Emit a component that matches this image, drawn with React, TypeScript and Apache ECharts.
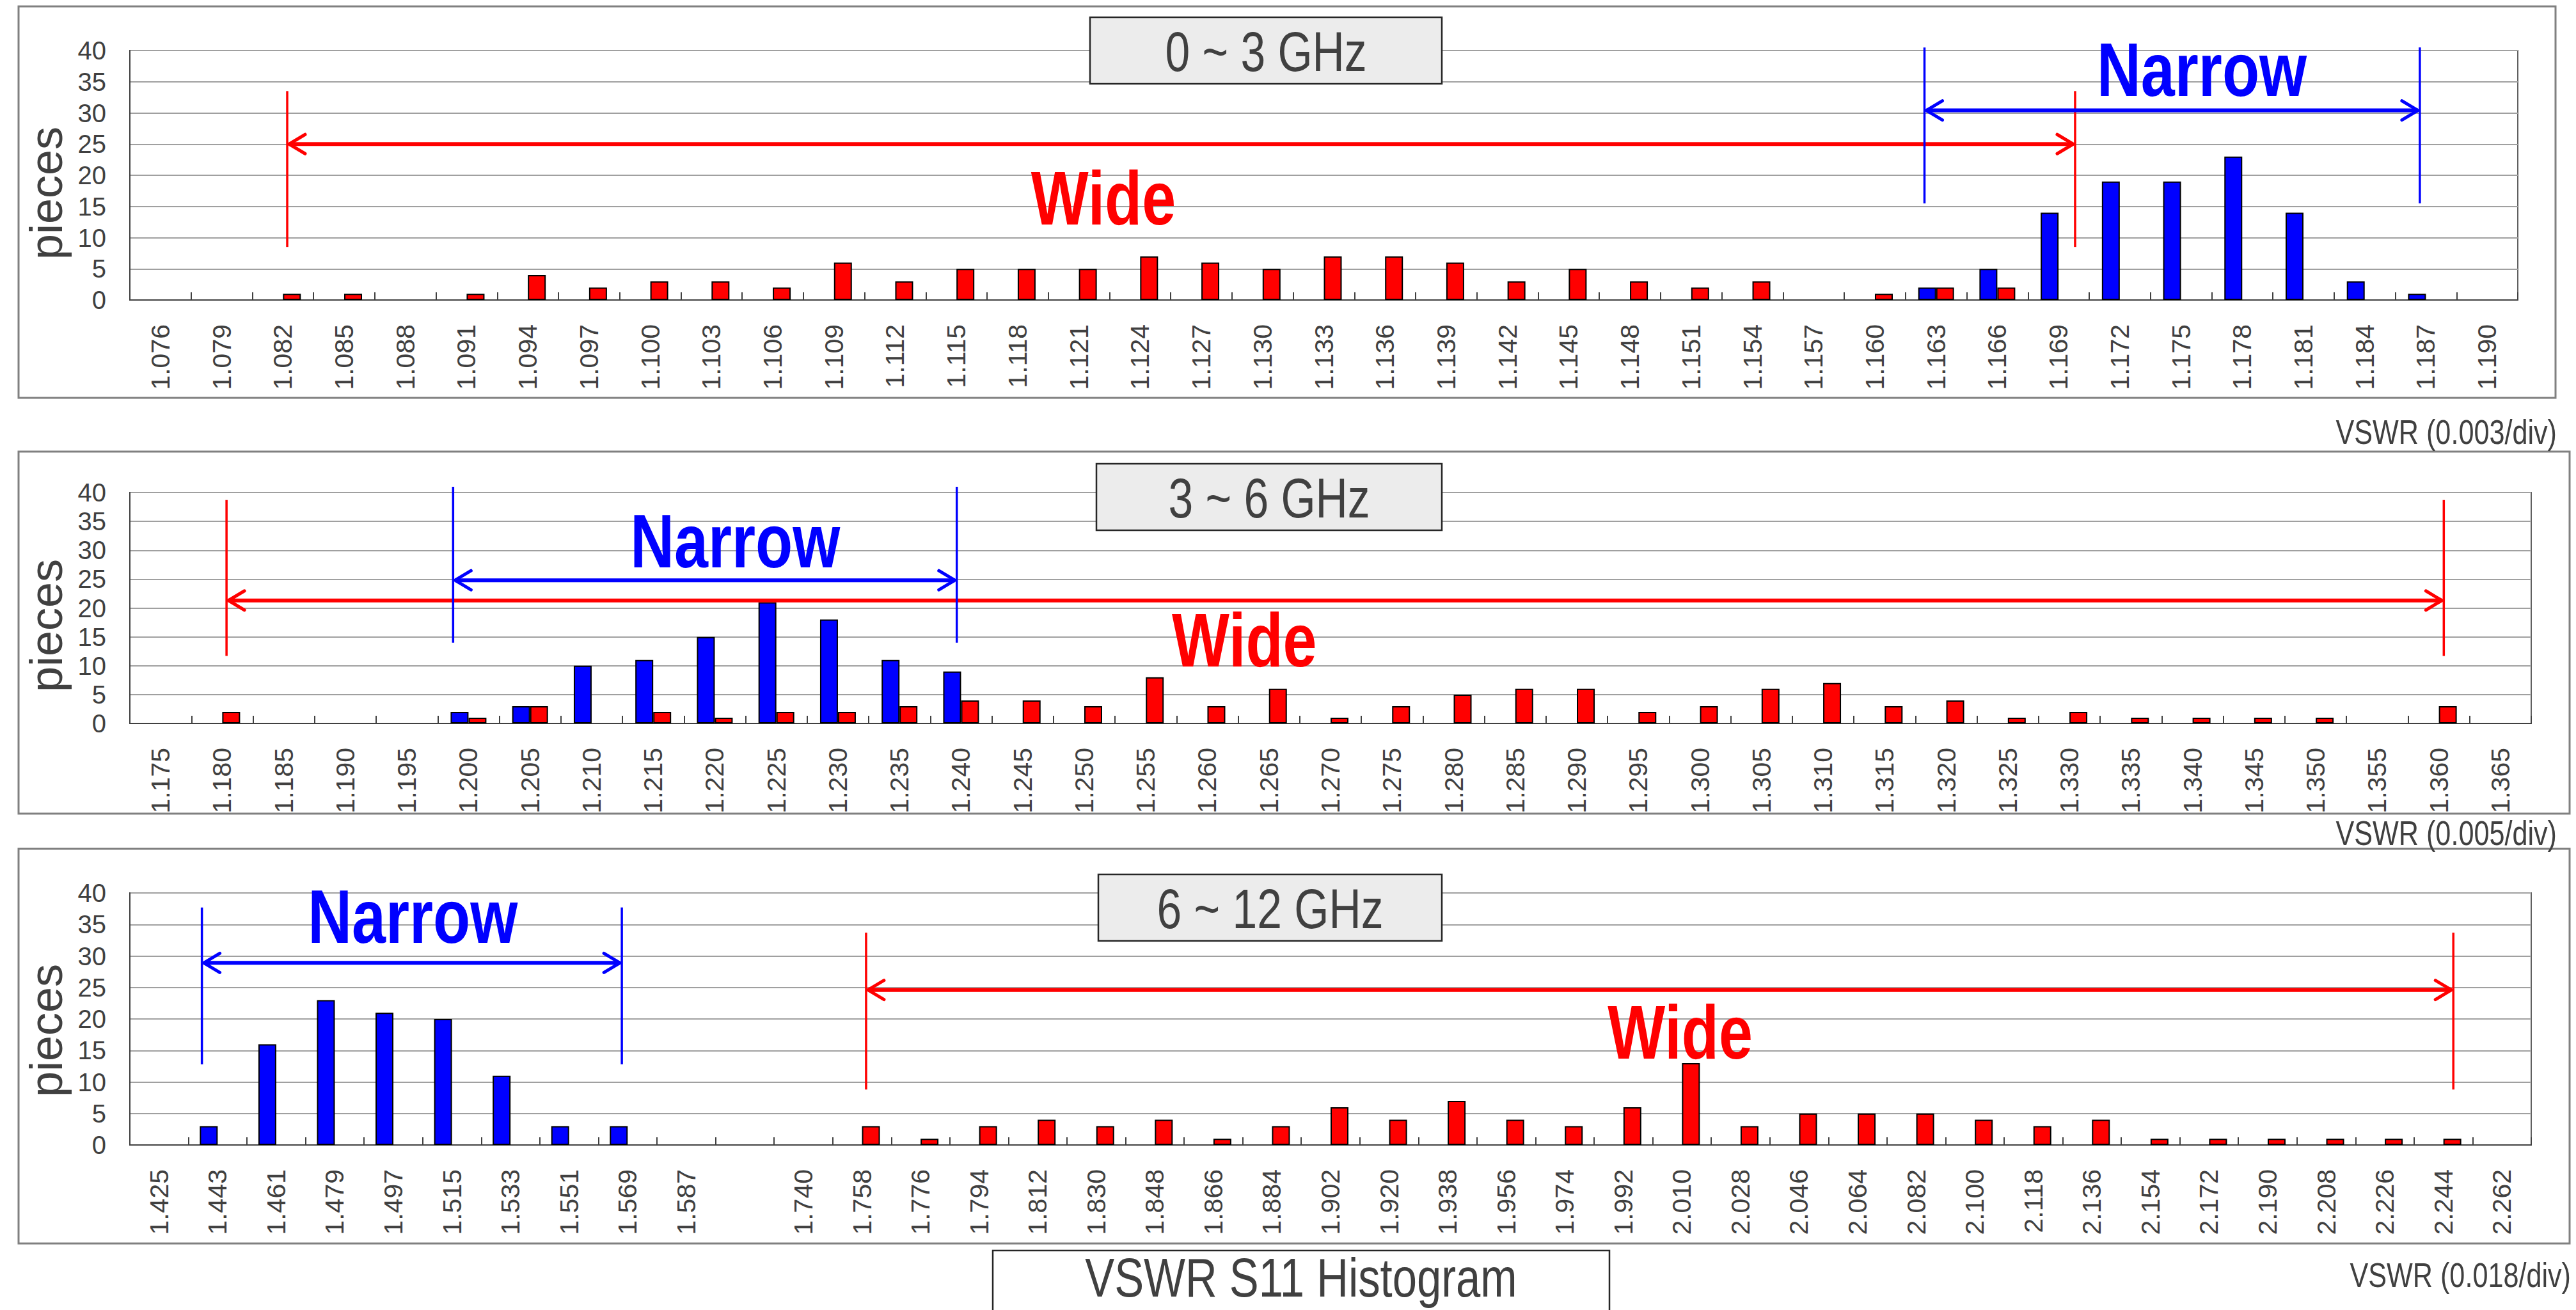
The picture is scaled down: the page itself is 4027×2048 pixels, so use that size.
import React, { useEffect, useRef } from 'react';
import * as echarts from 'echarts';

// ---------- data ----------
const cats1 = ['1.076','1.079','1.082','1.085','1.088','1.091','1.094','1.097','1.100','1.103','1.106','1.109','1.112','1.115','1.118','1.121','1.124','1.127','1.130','1.133','1.136','1.139','1.142','1.145','1.148','1.151','1.154','1.157','1.160','1.163','1.166','1.169','1.172','1.175','1.178','1.181','1.184','1.187','1.190'];
const narrow1 = [0,0,0,0,0,0,0,0,0,0,0,0,0,0,0,0,0,0,0,0,0,0,0,0,0,0,0,0,0,2,5,14,19,19,23,14,3,1,0];
const wide1 = [0,0,1,1,0,1,4,2,3,3,2,6,3,5,5,5,7,6,5,7,7,6,3,5,3,2,3,0,1,2,2,0,0,0,0,0,0,0,0];

const cats2 = ['1.175','1.180','1.185','1.190','1.195','1.200','1.205','1.210','1.215','1.220','1.225','1.230','1.235','1.240','1.245','1.250','1.255','1.260','1.265','1.270','1.275','1.280','1.285','1.290','1.295','1.300','1.305','1.310','1.315','1.320','1.325','1.330','1.335','1.340','1.345','1.350','1.355','1.360','1.365'];
const narrow2 = [0,0,0,0,0,2,3,10,11,15,21,18,11,9,0,0,0,0,0,0,0,0,0,0,0,0,0,0,0,0,0,0,0,0,0,0,0,0,0];
const wide2 = [0,2,0,0,0,1,3,0,2,1,2,2,3,4,4,3,8,3,6,1,3,5,6,6,2,3,6,7,3,4,1,2,1,1,1,1,0,3,0];

const cats3 = ['1.425','1.443','1.461','1.479','1.497','1.515','1.533','1.551','1.569','1.587',' ','1.740','1.758','1.776','1.794','1.812','1.830','1.848','1.866','1.884','1.902','1.920','1.938','1.956','1.974','1.992','2.010','2.028','2.046','2.064','2.082','2.100','2.118','2.136','2.154','2.172','2.190','2.208','2.226','2.244','2.262'];
const narrow3 = [0,3,16,23,21,20,11,3,3,0,0,0,0,0,0,0,0,0,0,0,0,0,0,0,0,0,0,0,0,0,0,0,0,0,0,0,0,0,0,0,0];
const wide3 = [0,0,0,0,0,0,0,0,0,0,0,0,3,1,3,4,3,4,1,3,6,4,7,4,3,6,13,3,5,5,5,4,3,4,1,1,1,1,1,1,0];

const yTicks = { min: 0, max: 40, interval: 5 };

// Range annotations: [fromCategoryIndex, toCategoryIndex, arrowValue, lineLow, lineHigh, labelIndex, labelValue]
const wideRange1 = [2.07, 31.27, 25, 8.5, 33.5, 15.4, 16.3];
const narrowRange1 = [28.81, 36.9, 30.4, 15.5, 40.5, 33.34, 37.0];
const wideRange2 = [1.07, 37.08, 21.3, 11.7, 38.7, 17.6, 14.5];
const narrowRange2 = [4.75, 12.93, 24.8, 14.0, 41.0, 9.33, 31.6];
const narrowRange3 = [0.73, 7.9, 28.9, 12.8, 37.7, 4.33, 36.3];
const wideRange3 = [12.07, 39.17, 24.6, 8.8, 33.7, 25.97, 17.9];

const panelTitles = ['0 ~ 3 GHz', '3 ~ 6 GHz', '6 ~ 12 GHz'];
const axisNotes = ['VSWR (0.003/div)', 'VSWR (0.005/div)', 'VSWR (0.018/div)'];
const yName = 'pieces';
const mainTitle = 'VSWR S11 Histogram';

// ---------- styles / layout ----------
const FONT = "'Liberation Sans', Arial, Helvetica, sans-serif";
const TXT = '#404040';
const RED = '#ff0000';
const BLUE = '#0000ff';

const grids = [
  { left: 203, top: 79, width: 3733, height: 390 },
  { left: 203, top: 770, width: 3754, height: 361 },
  { left: 203, top: 1396, width: 3754, height: 394 },
];
const panelBoxes = [
  { x: 29, y: 10, width: 3966, height: 612 },
  { x: 29, y: 706, width: 3988, height: 566 },
  { x: 29, y: 1327, width: 3988, height: 617 },
];
const titleBoxes = [
  { x: 1704, y: 27, width: 550, height: 104, ty: 81 },
  { x: 1714, y: 725, width: 540, height: 104, ty: 779 },
  { x: 1717, y: 1367, width: 537, height: 104, ty: 1421 },
];
const notePos = [
  { x: 3997, y: 675 },
  { x: 3997, y: 1302 },
  { x: 4019, y: 1993 },
];
const piecesY = [302, 978, 1611];

function buildOption() {
  const catsAll = [cats1, cats2, cats3];
  const narrowAll = [narrow1, narrow2, narrow3];
  const wideAll = [wide1, wide2, wide3];
  const ranges = [
    [[wideRange1, RED, 'Wide'], [narrowRange1, BLUE, 'Narrow']],
    [[wideRange2, RED, 'Wide'], [narrowRange2, BLUE, 'Narrow']],
    [[narrowRange3, BLUE, 'Narrow'], [wideRange3, RED, 'Wide']],
  ];

  const xAxis: any[] = [];
  const yAxis: any[] = [];
  const series: any[] = [];

  catsAll.forEach((cats, g) => {
    xAxis.push({
      type: 'category',
      gridIndex: g,
      data: cats,
      boundaryGap: true,
      axisLine: { show: true, onZero: false, lineStyle: { color: TXT, width: 2 } },
      axisTick: { show: true, inside: true, length: 12, interval: 0, lineStyle: { color: TXT, width: 2 } },
      axisLabel: {
        interval: 0, rotate: 90, margin: 38, fontSize: 41, color: TXT, fontFamily: FONT,
      },
      splitLine: { show: false },
    });
    yAxis.push({
      type: 'value',
      gridIndex: g,
      min: yTicks.min,
      max: yTicks.max,
      interval: yTicks.interval,
      axisLine: { show: true, onZero: false, lineStyle: { color: TXT, width: 2 } },
      axisTick: { show: false },
      axisLabel: { margin: 37, fontSize: 40, color: TXT, fontFamily: FONT },
      splitLine: { show: true, lineStyle: { color: '#a0a0a0', width: 2 } },
    });
  });
  // hidden linear axes to place the range annotations between categories
  catsAll.forEach((cats, g) => {
    xAxis.push({
      type: 'value', gridIndex: g, min: -0.5, max: cats.length - 0.5, show: false,
      axisLine: { onZero: false },
    });
  });

  catsAll.forEach((cats, g) => {
    const mk = (name: string, data: number[], color: string) => ({
      type: 'bar',
      name,
      xAxisIndex: g,
      yAxisIndex: g,
      data: data.map((v) => (v === 0 ? '-' : v)),
      barWidth: 28,
      barGap: '0%',
      itemStyle: { color, borderColor: '#000', borderWidth: 2 },
      silent: true,
    });
    series.push(mk('Narrow', narrowAll[g], BLUE));
    series.push(mk('Wide', wideAll[g], RED));

    ranges[g].forEach(([r, color, label]: any) => {
      series.push({
        type: 'custom',
        xAxisIndex: 3 + g,
        yAxisIndex: g,
        clip: false,
        silent: true,
        z: 5,
        data: [r],
        renderItem: (params: any, api: any) => {
          const x0 = api.value(0), x1 = api.value(1), yv = api.value(2);
          const lo = api.value(3), hi = api.value(4);
          const lx = api.value(5), ly = api.value(6);
          const a0 = api.coord([x0, yv]);
          const a1 = api.coord([x1, yv]);
          const yLo = api.coord([x0, lo])[1];
          const yHi = api.coord([x0, hi])[1];
          const lp = api.coord([lx, ly]);
          const ay = a0[1];
          return {
            type: 'group',
            children: [
              { type: 'line', shape: { x1: a0[0], y1: yHi, x2: a0[0], y2: yLo }, style: { stroke: color, lineWidth: 3.5 } },
              { type: 'line', shape: { x1: a1[0], y1: yHi, x2: a1[0], y2: yLo }, style: { stroke: color, lineWidth: 3.5 } },
              { type: 'line', shape: { x1: a0[0] + 3, y1: ay, x2: a1[0] - 3, y2: ay }, style: { stroke: color, lineWidth: 6 } },
              { type: 'polyline', shape: { points: [[a0[0] + 28, ay - 15], [a0[0] + 3, ay], [a0[0] + 28, ay + 15]] }, style: { stroke: color, lineWidth: 5, fill: null, lineJoin: 'round', lineCap: 'round' } },
              { type: 'polyline', shape: { points: [[a1[0] - 28, ay - 15], [a1[0] - 3, ay], [a1[0] - 28, ay + 15]] }, style: { stroke: color, lineWidth: 5, fill: null, lineJoin: 'round', lineCap: 'round' } },
              {
                type: 'text', x: lp[0], y: lp[1], scaleX: 0.8,
                style: { text: label, fill: color, fontSize: 119, fontWeight: 'bold', fontFamily: FONT, align: 'center', verticalAlign: 'middle' },
              },
            ],
          };
        },
      });
    });
  });

  const graphic: any[] = [];
  panelBoxes.forEach((b) => {
    graphic.push({ type: 'rect', z: 1, shape: { ...b }, style: { fill: 'none', stroke: '#808080', lineWidth: 3 } });
  });
  titleBoxes.forEach((b, i) => {
    graphic.push({
      type: 'rect', z: 20, shape: { x: b.x, y: b.y, width: b.width, height: b.height },
      style: { fill: '#ececec', stroke: '#262626', lineWidth: 2.5 },
    });
    graphic.push({
      type: 'text', z: 21, x: b.x + b.width / 2, y: b.ty, scaleX: 0.8,
      style: { text: panelTitles[i], fill: TXT, fontSize: 87, fontFamily: FONT, align: 'center', verticalAlign: 'middle' },
    });
  });
  notePos.forEach((p, i) => {
    graphic.push({
      type: 'text', z: 21, x: p.x, y: p.y, scaleX: 0.8,
      style: { text: axisNotes[i], fill: TXT, fontSize: 54, fontFamily: FONT, align: 'right', verticalAlign: 'middle' },
    });
  });
  piecesY.forEach((y) => {
    graphic.push({
      type: 'text', z: 21, x: 72, y, rotation: Math.PI / 2,
      style: { text: yName, fill: TXT, fontSize: 72, fontFamily: FONT, align: 'center', verticalAlign: 'middle' },
    });
  });
  graphic.push({
    type: 'rect', z: 20, shape: { x: 1552, y: 1955, width: 964, height: 150 },
    style: { fill: '#ffffff', stroke: '#262626', lineWidth: 2.5 },
  });
  graphic.push({
    type: 'text', z: 21, x: 2034, y: 1998, scaleX: 0.8,
    style: { text: mainTitle, fill: TXT, fontSize: 86, fontFamily: FONT, align: 'center', verticalAlign: 'middle' },
  });

  return {
    animation: false,
    backgroundColor: '#ffffff',
    textStyle: { fontFamily: FONT },
    grid: grids.map((g) => ({
      ...g,
      show: true,
      borderColor: '#606060',
      borderWidth: 2,
      backgroundColor: 'transparent',
      containLabel: false,
      outerBoundsMode: 'none',
    })),
    xAxis,
    yAxis,
    series,
    graphic,
  };
}

export default function App() {
  const ref = useRef<HTMLDivElement>(null);
  useEffect(() => {
    document.body.style.margin = '0';
    if (!ref.current) return;
    const chart = echarts.init(ref.current, null, { renderer: 'svg' });
    chart.setOption(buildOption() as any);
    return () => chart.dispose();
  }, []);
  return (
    <div
      ref={ref}
      style={{ position: 'absolute', left: 0, top: 0, width: '4027px', height: '2048px', background: '#fff' }}
    />
  );
}
